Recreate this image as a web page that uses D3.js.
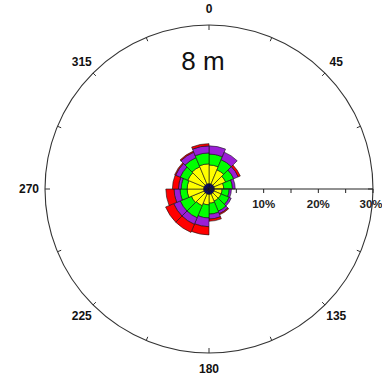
<!DOCTYPE html>
<html>
<head>
<meta charset="utf-8">
<script src="https://cdn.jsdelivr.net/npm/d3@7"></script>
<style>
  html, body { margin: 0; padding: 0; background: #fff; }
  svg { display: block; }
  text { font-family: Arial, "Liberation Sans", sans-serif; }
</style>
</head>
<body>
<svg id="rose" width="382" height="381"></svg>
<script>
// Direction bins (start of each 22.5° sector, degrees from north)
const sectorStarts = [0, 22.5, 45, 67.5, 90, 112.5, 135, 157.5, 180, 202.5, 225, 247.5, 270, 292.5, 315, 337.5];
const sectorWidth = 22.5;

// Frequency (%) per speed class, per direction bin
const classBlue   = [1.0, 1.0, 1.0, 1.0, 1.0, 1.0, 1.0, 1.0, 1.0, 1.0, 1.0, 1.0, 1.0, 1.0, 1.0, 1.0];
const classYellow = [3.4, 2.8, 2.3, 1.7, 1.4, 1.4, 1.4, 1.6, 1.9, 2.3, 2.5, 3.0, 3.0, 3.2, 3.4, 3.6];
const classGreen  = [2.0, 2.0, 1.6, 1.6, 1.3, 1.6, 2.0, 2.0, 2.4, 2.4, 2.2, 1.3, 1.1, 1.5, 1.8, 2.0];
const classPurple = [1.5, 1.5, 0.9, 0.5, 0.4, 0.4, 0.5, 0.9, 1.6, 1.3, 1.3, 1.1, 0.5, 0.9, 1.1, 1.3];
const classRed    = [0.0, 0.0, 0.4, 0.0, 0.0, 0.0, 0.2, 0.4, 1.5, 1.6, 1.6, 1.5, 1.1, 0.2, 0.2, 0.4];

const classes = [
  { values: classBlue,   color: "#00008c" },
  { values: classYellow, color: "#ffff00" },
  { values: classGreen,  color: "#00ff00" },
  { values: classPurple, color: "#9a1fd6" },
  { values: classRed,    color: "#ff0000" }
];

// Axis ticks and labels
const pctTicks = [5, 10, 15, 20, 25, 30];
const pctLabels = [10, 20, 30];
const dirLabels = [0, 45, 135, 180, 225, 270, 315];
const title = "8 m";

const svg = d3.select("#rose");
const cx = 209, cy = 189, R = 164;
const g = svg.append("g").attr("transform", `translate(${cx},${cy})`);

const r = d3.scaleLinear().domain([0, 30]).range([0, R]);
const rad = d => d * Math.PI / 180;

// Stacked sectors
const arc = d3.arc();
sectorStarts.forEach((start, i) => {
  let cum = 0;
  classes.forEach(c => {
    const v = c.values[i];
    if (v > 0) {
      g.append("path")
        .attr("d", arc({
          innerRadius: r(cum),
          outerRadius: r(cum + v),
          startAngle: rad(start),
          endAngle: rad(start + sectorWidth)
        }))
        .attr("fill", c.color)
        .attr("stroke", "#111")
        .attr("stroke-width", 0.6);
    }
    cum += v;
  });
});

// Outer circle
g.append("circle")
  .attr("r", R)
  .attr("fill", "none")
  .attr("stroke", "#333")
  .attr("stroke-width", 1.1);

// Inner ticks on the circle every 22.5°
d3.range(0, 360, 22.5).forEach(a => {
  const len = (a % 90 === 0) ? 5 : 4;
  const s = Math.sin(rad(a)), co = -Math.cos(rad(a));
  g.append("line")
    .attr("x1", s * R).attr("y1", co * R)
    .attr("x2", s * (R - len)).attr("y2", co * (R - len))
    .attr("stroke", "#333").attr("stroke-width", 1);
});

// Direction labels
dirLabels.forEach(a => {
  const lr = 180;
  g.append("text")
    .attr("x", Math.sin(rad(a)) * lr)
    .attr("y", -Math.cos(rad(a)) * lr)
    .attr("text-anchor", "middle")
    .attr("dominant-baseline", "central")
    .attr("font-size", 12)
    .attr("font-weight", "bold")
    .attr("fill", "#111")
    .text(a);
});

// Radial percentage axis towards east
g.append("line")
  .attr("x1", 0).attr("y1", 0)
  .attr("x2", r(30)).attr("y2", 0)
  .attr("stroke", "#222").attr("stroke-width", 1);

pctTicks.forEach(t => {
  g.append("line")
    .attr("x1", r(t)).attr("y1", 0)
    .attr("x2", r(t)).attr("y2", 4)
    .attr("stroke", "#222").attr("stroke-width", 1);
});

pctLabels.forEach(t => {
  g.append("text")
    .attr("x", r(t) - (t === 30 ? 2 : 0))
    .attr("y", 19)
    .attr("text-anchor", "middle")
    .attr("font-size", 11.5)
    .attr("font-weight", "bold")
    .attr("fill", "#222")
    .text(t + "%");
});

// Title
svg.append("text")
  .attr("x", 203)
  .attr("y", 70)
  .attr("text-anchor", "middle")
  .attr("font-size", 26)
  .attr("fill", "#111")
  .text(title);
</script>
</body>
</html>
